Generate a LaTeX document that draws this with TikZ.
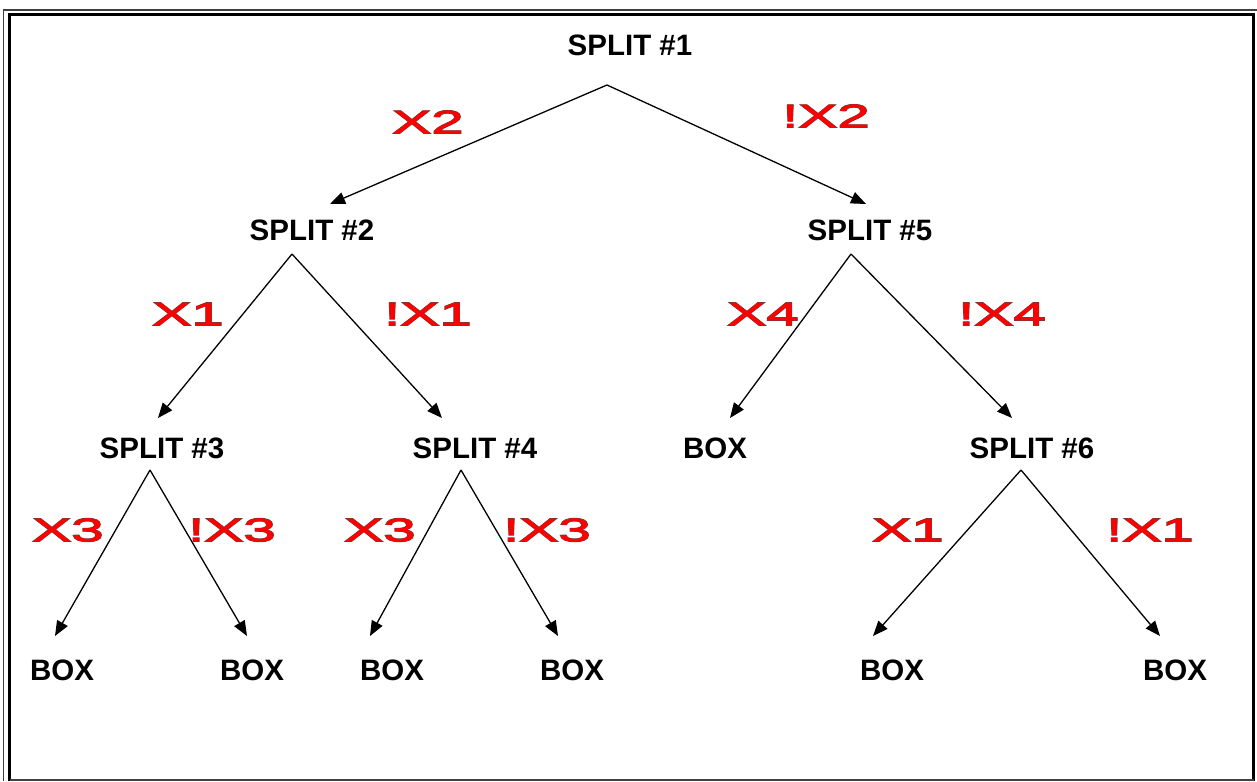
\documentclass[tikz,border=0pt]{standalone}
\usepackage{fontspec}
\setmainfont{Liberation Sans}
\newfontfamily\widefont[FakeStretch=1.8,FakeBold=1.5]{Liberation Sans}
\newfontfamily\wideoutfont[FakeStretch=1.8,FakeBold=4]{Liberation Sans}
\usetikzlibrary{arrows.meta}
\tikzset{
  lbl/.style={font=\bfseries\fontsize{29.5}{32}\selectfont, inner sep=0pt},
  cond/.style={inner sep=0pt, font=\fontsize{32.5}{36}\selectfont},
  edge/.style={line width=1.3pt, -{Triangle[length=15pt,width=12pt]}},
}
\newcommand\rl[1]{\makebox[0pt]{\wideoutfont\color{black!70}#1}\makebox[0pt]{\widefont\color{red}#1}}
\begin{document}
\begin{tikzpicture}[x=1pt,y=-1pt]
\useasboundingbox (0,0) rectangle (1257,781);
\fill[white] (0,0) rectangle (1257,781);
% frame
\draw[line width=1.3pt, black!75] (3.5,781) -- (3.5,10) -- (1257,10);
\draw[line width=3pt] (9.5,781) -- (9.5,14.5) -- (1253.5,14.5) -- (1253.5,781);
\draw[line width=1.5pt, black!75] (9.5,780.2) -- (1253.5,780.2);
% nodes
\node[lbl] (s1) at (630,45) {SPLIT \#1};
\node[lbl] (s2) at (312,230) {SPLIT \#2};
\node[lbl] (s5) at (870,230) {SPLIT \#5};
\node[lbl] (s3) at (162,448) {SPLIT \#3};
\node[lbl] (s4) at (475,448) {SPLIT \#4};
\node[lbl] (b5) at (715,448) {BOX};
\node[lbl] (s6) at (1032,448) {SPLIT \#6};
\node[lbl] (b1) at (62,670) {BOX};
\node[lbl] (b2) at (252,670) {BOX};
\node[lbl] (b3) at (392,670) {BOX};
\node[lbl] (b4) at (572,670) {BOX};
\node[lbl] (b6) at (892,670) {BOX};
\node[lbl] (b7) at (1175,670) {BOX};
% connector points
\coordinate (a1) at (607,85);
\coordinate (t2) at (330,204);
\coordinate (t5) at (866,204);
\coordinate (a2) at (292,254);
\coordinate (t3) at (158,418);
\coordinate (t4) at (442,418);
\coordinate (a5) at (851,254);
\coordinate (tb5) at (730,418);
\coordinate (t6) at (1012,418);
\coordinate (a3) at (150,470);
\coordinate (tb1) at (55,636);
\coordinate (tb2) at (247,636);
\coordinate (a4) at (461,470);
\coordinate (tb3) at (370,636);
\coordinate (tb4) at (558,636);
\coordinate (a6) at (1021,470);
\coordinate (tb6) at (873,636);
\coordinate (tb7) at (1160,636);
% connectors
\draw[edge] (a1) -- (t2);
\draw[edge] (a1) -- (t5);
\draw[edge] (a2) -- (t3);
\draw[edge] (a2) -- (t4);
\draw[edge] (a5) -- (tb5);
\draw[edge] (a5) -- (t6);
\draw[edge] (a3) -- (tb1);
\draw[edge] (a3) -- (tb2);
\draw[edge] (a4) -- (tb3);
\draw[edge] (a4) -- (tb4);
\draw[edge] (a6) -- (tb6);
\draw[edge] (a6) -- (tb7);
% condition labels
\node[cond] (l1) at (428,122) {\rl{X2}};
\node[cond] (l2) at (826,116) {\rl{!X2}};
\node[cond] (l3) at (188,314) {\rl{X1}};
\node[cond] (l4) at (428,314) {\rl{!X1}};
\node[cond] (l5) at (763,314) {\rl{X4}};
\node[cond] (l6) at (1002,314) {\rl{!X4}};
\node[cond] (l7) at (68,530) {\rl{X3}};
\node[cond] (l8) at (232,530) {\rl{!X3}};
\node[cond] (l9) at (380,530) {\rl{X3}};
\node[cond] (l10) at (547,530) {\rl{!X3}};
\node[cond] (l11) at (908,530) {\rl{X1}};
\node[cond] (l12) at (1150,530) {\rl{!X1}};
\end{tikzpicture}
\end{document}
